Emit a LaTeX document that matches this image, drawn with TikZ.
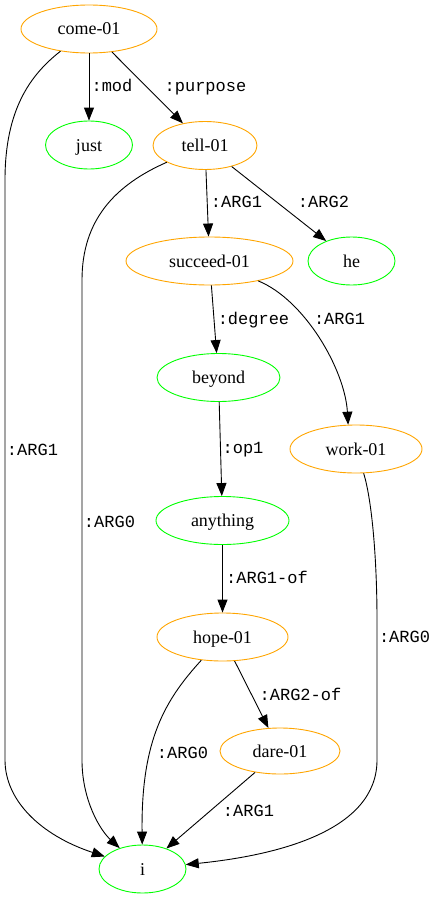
\documentclass[tikz,border=0pt]{standalone}
\usepackage{fontspec}
\setmainfont{Liberation Serif}
\setmonofont{Liberation Mono}
\usetikzlibrary{arrows.meta,shapes.geometric}
\definecolor{predorange}{HTML}{FFA500}
\definecolor{leafgreen}{HTML}{00FF00}
\begin{document}
\begin{tikzpicture}[x=1pt,y=-1pt,
  concept/.style={ellipse, draw, line width=0.9pt, inner sep=0pt,
    minimum height=48pt, font=\fontsize{18}{18}\selectfont,
    text height=12pt, text depth=0pt},
  pred/.style={concept, draw=predorange},
  leaf/.style={concept, draw=leafgreen},
  rel/.style={draw=black, line width=0.9pt,
    -{Triangle[length=13pt,width=10pt]}},
  role/.style={inner sep=0pt, font=\fontsize{17}{17}\selectfont\ttfamily,
    text height=10pt, text depth=0pt}
]
\useasboundingbox (0,0) rectangle (439,899);

% concepts
\node[pred, minimum width=136pt] (come)     at (89,29)      {come-01};
\node[leaf, minimum width=87pt]  (just)     at (89,145)     {just};
\node[pred, minimum width=104pt] (tell)     at (205,145.5)  {tell-01};
\node[pred, minimum width=167pt] (succeed)  at (209.5,261)  {succeed-01};
\node[leaf, minimum width=87pt]  (he)       at (351.5,261)  {he};
\node[leaf, minimum width=123pt] (beyond)   at (218.5,377.5){beyond};
\node[pred, minimum width=132pt] (work)     at (356,449)    {work-01};
\node[leaf, minimum width=133pt] (anything) at (222.5,520.5){anything};
\node[pred, minimum width=131pt] (hope)     at (222.5,637)  {hope-01};
\node[pred, minimum width=120pt, minimum height=46pt] (dare) at (280,751) {dare-01};
\node[leaf, minimum width=87pt]  (i)        at (142.5,869)  {i};

% relations
\draw[rel] (come) -- (just)
  node[role] (lmod) at (112,87) {:mod};
\draw[rel] (come) -- (tell)
  node[role] (lpurpose) at (205.5,87) {:purpose};
\draw[rel] (come) .. controls (30,75) and (5,110) .. (5,180) -- (5,760)
  .. controls (5,800) and (40,835) .. (i)
  node[role] (lcomearg) at (32.5,450) {:ARG1};

\draw[rel] (tell) -- (succeed)
  node[role] (ltellone) at (236.5,202) {:ARG1};
\draw[rel] (tell) -- (he)
  node[role] (ltelltwo) at (323.5,202) {:ARG2};
\draw[rel] (tell) .. controls (115,185) and (82,220) .. (82,280) -- (82,760)
  .. controls (82,800) and (100,830) .. (i)
  node[role] (ltellzero) at (109.5,522) {:ARG0};

\draw[rel] (succeed) -- (beyond)
  node[role] (ldegree) at (253.5,319) {:degree};
\draw[rel] (succeed) .. controls (305,300) and (345,370) .. (work.108)
  node[role] (lsucceed) at (339.5,319) {:ARG1};

\draw[rel] (beyond) -- (anything)
  node[role] (lop) at (243,448) {:op1};
\draw[rel] (work) .. controls (372,500) and (377,560) .. (377,620) -- (377,760)
  .. controls (377,830) and (280,855) .. (i)
  node[role] (lwork) at (404.5,637) {:ARG0};

\draw[rel] (anything) -- (hope)
  node[role] (lof) at (267,578) {:ARG1-of};
\draw[rel] (hope) -- (dare)
  node[role] (ltwoof) at (300.5,695) {:ARG2-of};
\draw[rel] (hope) .. controls (165,700) and (141,740) .. (i)
  node[role] (lhope) at (182.5,753) {:ARG0};
\draw[rel] (dare) -- (i)
  node[role] (ldare) at (248.5,811) {:ARG1};
\end{tikzpicture}
\end{document}
